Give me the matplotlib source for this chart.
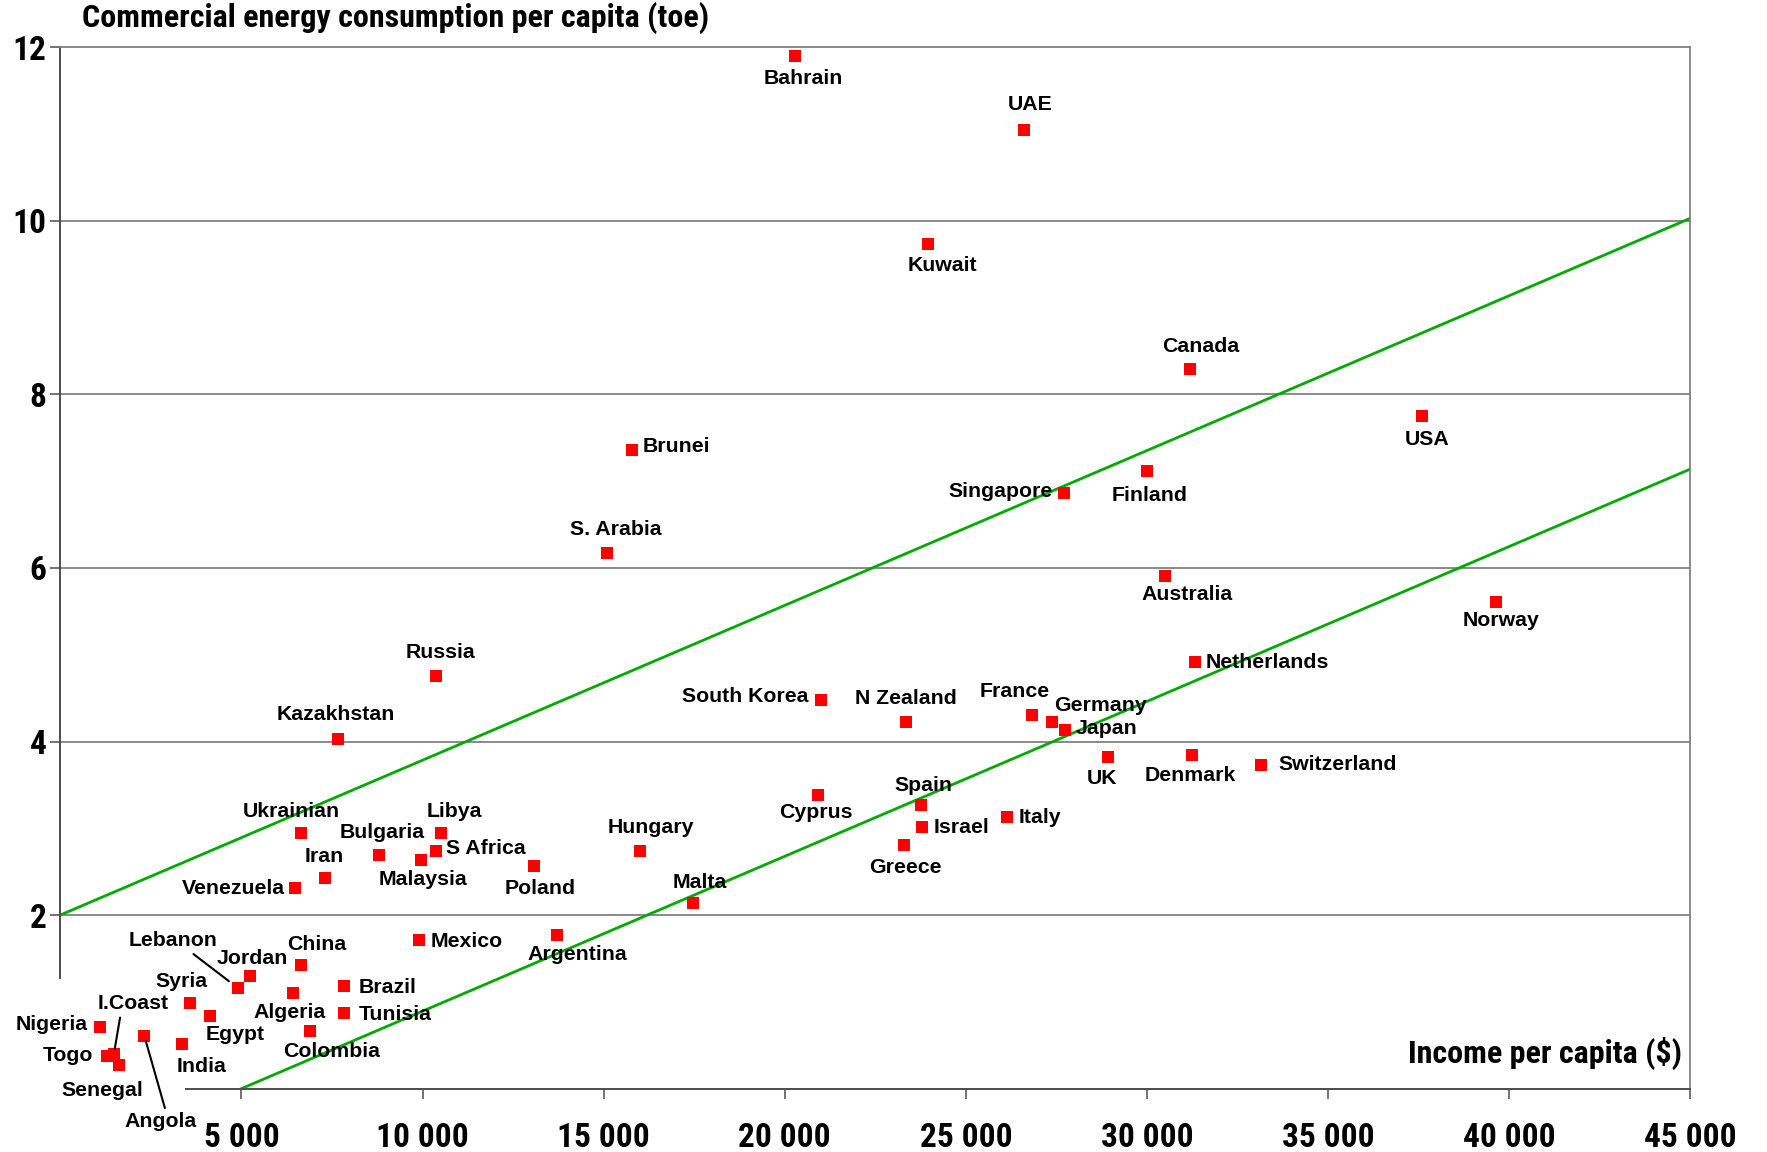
import matplotlib
matplotlib.use("Agg")
import matplotlib.pyplot as plt
from matplotlib import font_manager

# income per capita ($) and commercial energy use per capita (toe)
countries = ["Bahrain", "UAE", "Kuwait", "Canada", "USA", "Brunei", "Finland",
             "Singapore", "S. Arabia", "Australia", "Norway", "Russia",
             "Netherlands", "Kazakhstan", "South Korea", "N Zealand", "France",
             "Germany", "Japan", "UK", "Denmark", "Switzerland", "Cyprus",
             "Spain", "Italy", "Israel", "Greece", "Hungary", "Malta",
             "Ukrainian", "Libya", "Bulgaria", "S Africa", "Malaysia", "Iran",
             "Venezuela", "Poland", "Argentina", "Mexico", "China", "Jordan",
             "Lebanon", "Brazil", "Algeria", "Syria", "Egypt", "Tunisia",
             "Colombia", "Nigeria", "Angola", "India", "Togo", "I.Coast",
             "Senegal"]
income = [20290, 26600, 23960, 31180, 37580, 15780, 30000,
          27700, 15100, 30490, 39640, 10370,
          31330, 7670, 21010, 23340, 26820,
          27380, 27730, 28910, 31240, 33140, 20920,
          23750, 26140, 23780, 23280, 16000, 17460,
          6640, 10500, 8790, 10370, 9970, 7320,
          6480, 13080, 13700, 9900, 6640, 5240,
          4900, 7820, 6420, 3590, 4120, 7820,
          6890, 1100, 2320, 3370, 1290, 1480,
          1630]
energy = [11.90, 11.05, 9.73, 8.29, 7.75, 7.36, 7.12,
          6.86, 6.17, 5.91, 5.61, 4.75,
          4.92, 4.03, 4.48, 4.22, 4.31,
          4.22, 4.13, 3.82, 3.84, 3.73, 3.38,
          3.27, 3.13, 3.01, 2.81, 2.74, 2.14,
          2.95, 2.95, 2.69, 2.74, 2.64, 2.43,
          2.31, 2.57, 1.77, 1.71, 1.42, 1.30,
          1.16, 1.18, 1.10, 0.99, 0.84, 0.87,
          0.66, 0.71, 0.61, 0.52, 0.38, 0.40,
          0.27]

# two parallel reference lines
upper_x = [0, 45000]
upper_y = [2.0, 10.03]
lower_x = [5000, 45000]
lower_y = [0.0, 7.14]

yticks = [2, 4, 6, 8, 10, 12]
xticks = [5000, 10000, 15000, 20000, 25000, 30000, 35000, 40000, 45000]

# label placement: offset from the marker in pixels (x right, y down) and alignment
label_pos = {
    "Bahrain": (8, 23, "center"), "UAE": (6, -25, "center"),
    "Kuwait": (14, 21, "center"), "Canada": (11, -23, "center"),
    "USA": (5, 23, "center"), "Brunei": (11, -3, "left"),
    "Finland": (3, 25, "center"), "Singapore": (-11, -2, "right"),
    "S. Arabia": (9, -24, "center"), "Australia": (22, 19, "center"),
    "Norway": (5, 19, "center"), "Russia": (5, -24, "center"),
    "Netherlands": (10, 1, "left"), "Kazakhstan": (-2, -24, "center"),
    "South Korea": (-13, -3, "right"), "N Zealand": (0, -24, "center"),
    "France": (-17, -23, "center"), "Germany": (2, -17, "left"),
    "Japan": (11, -2, "left"), "UK": (-6, 21, "center"),
    "Denmark": (-2, 20, "center"), "Switzerland": (18, 0, "left"),
    "Cyprus": (-2, 17, "center"), "Spain": (3, -19, "center"),
    "Italy": (11, 0, "left"), "Israel": (12, 0, "left"),
    "Greece": (2, 23, "center"), "Hungary": (11, -23, "center"),
    "Malta": (7, -20, "center"), "Ukrainian": (-9, -21, "center"),
    "Libya": (14, -21, "center"), "Bulgaria": (3, -23, "center"),
    "S Africa": (10, -2, "left"), "Malaysia": (2, 20, "center"),
    "Iran": (-1, -21, "center"), "Venezuela": (-10, 0, "right"),
    "Poland": (6, 23, "center"), "Argentina": (21, 19, "center"),
    "Mexico": (12, 1, "left"), "China": (16, -21, "center"),
    "Jordan": (2, -17, "center"), "Brazil": (15, 1, "left"),
    "Algeria": (-3, 19, "center"), "Syria": (-9, -21, "center"),
    "Egypt": (26, 19, "center"), "Tunisia": (15, 1, "left"),
    "Colombia": (22, 20, "center"), "Nigeria": (-12, -3, "right"),
    "India": (19, 23, "center"), "Togo": (-14, 0, "right"),
    "Senegal": (-17, 25, "center"),
}
# labels joined to their marker by a short leader line: offset, relpos, shrink
leader_pos = {
    "Lebanon": (-65, -47, (0.68, 0.0), 8),
    "I.Coast": (19, -50, (0.33, 0.0), 4),
    "Angola": (16, 86, (0.58, 1.0), 4),
}

names = {f.name for f in font_manager.fontManager.ttflist}
narrow = next((n for n in ("Roboto Condensed", "PT Sans Narrow", "Pragati Narrow")
               if n in names), "Liberation Sans")
label_font = dict(family=["Liberation Sans", "DejaVu Sans"], weight="bold", size=15.3)
axis_font = dict(family=[narrow, "DejaVu Sans"], weight="bold", size=23)

fig = plt.figure(figsize=(17.67, 11.52), dpi=100)
ax = fig.add_axes([0.0341, 0.055, 0.9226, 0.904])
ax.set_xlim(0, 45000)
ax.set_ylim(0, 12)

for y in yticks[:-1]:
    ax.axhline(y, color="#808080", lw=1.3, zorder=1)

ax.plot(upper_x, upper_y, color="#00AA00", lw=2.0, zorder=2)
ax.plot(lower_x, lower_y, color="#00AA00", lw=2.0, zorder=2)

ax.plot(income, energy, "s", color="#FF0000", markersize=9.2,
        markeredgewidth=0, zorder=3, clip_on=False)

for name, x, y in zip(countries, income, energy):
    if name in label_pos:
        dx, dy, ha = label_pos[name]
        ax.annotate(name, (x, y), xytext=(dx, -dy), textcoords="offset pixels",
                    ha=ha, va="center", zorder=4, **label_font)
    else:
        dx, dy, rel, shrink = leader_pos[name]
        ax.annotate(name, (x, y), xytext=(dx, -dy), textcoords="offset pixels",
                    ha="center", va="center", zorder=4,
                    arrowprops=dict(arrowstyle="-", color="black", lw=1.5,
                                    relpos=rel, shrinkA=1, shrinkB=shrink),
                    **label_font)

# axes: partial left/bottom axis lines, grey plot-area border
for side in ("top", "right"):
    ax.spines[side].set_color("#808080")
    ax.spines[side].set_linewidth(1.3)
ax.spines["left"].set_bounds(1.28, 12)
ax.spines["bottom"].set_bounds(3480, 45000)
for side in ("left", "bottom"):
    ax.spines[side].set_color("#4D4D4D")
    ax.spines[side].set_linewidth(1.4)

ax.set_yticks(yticks)
ax.set_yticklabels([str(v) for v in yticks])
ax.set_xticks(xticks)
ax.set_xticklabels([f"{v:,}".replace(",", " ") for v in xticks])
ax.tick_params(axis="y", direction="out", length=7, width=1.1, color="#4D4D4D", pad=3)
ax.tick_params(axis="x", direction="out", length=7, width=1.1, color="#4D4D4D", pad=17)
for lab in ax.get_xticklabels() + ax.get_yticklabels():
    lab.set_fontfamily([narrow, "DejaVu Sans"])
    lab.set_fontweight("bold")
    lab.set_fontsize(24)

fig.text(0.0464, 0.984, "Commercial energy consumption per capita (toe)",
         ha="left", va="center", **axis_font)
ax.text(0.995, 0.034, "Income per capita ($)", transform=ax.transAxes,
        ha="right", va="center", **axis_font)

fig.savefig("out.png", dpi=100, facecolor="white")
